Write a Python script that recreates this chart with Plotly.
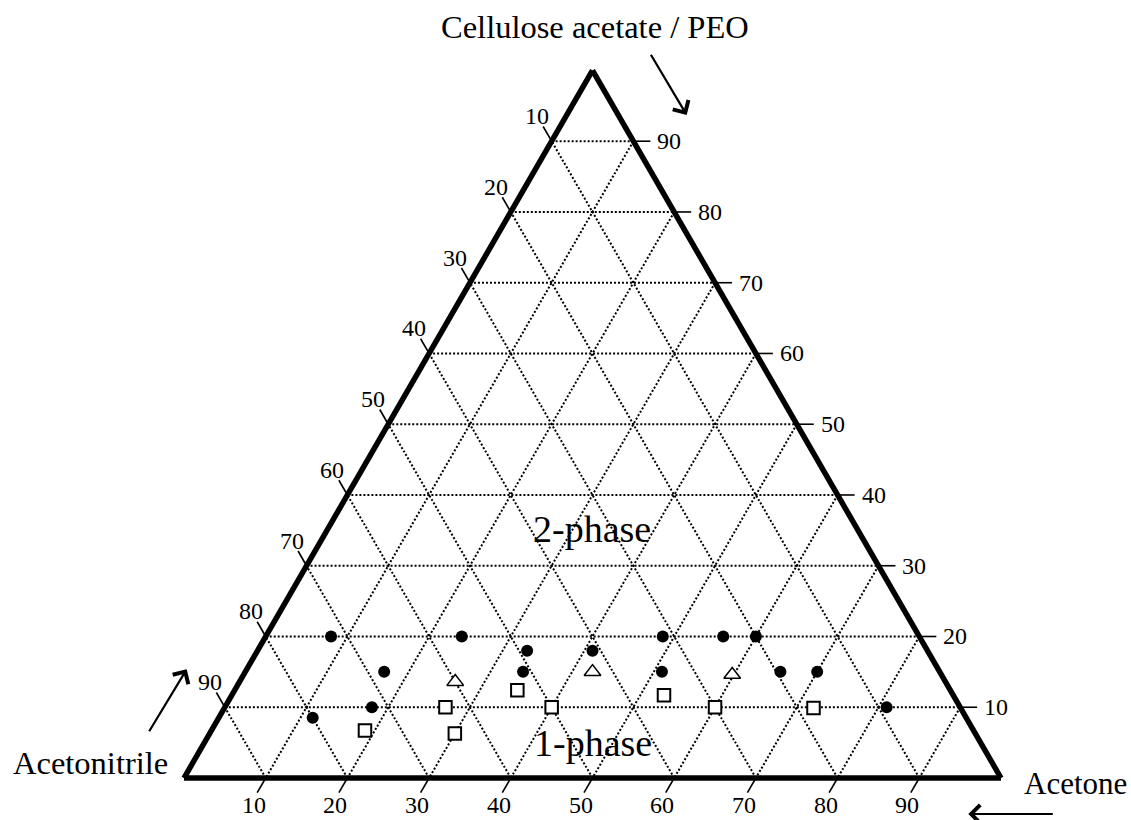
import plotly.graph_objects as go

# ---------------- data (a = Cellulose acetate / PEO, b = Acetonitrile, c = Acetone) ----
two_phase_a = [20, 20, 18, 18, 20, 20, 20, 15, 15, 15, 15, 15, 10, 10, 8.5]
two_phase_b = [72, 56, 49, 41, 31.4, 24, 20, 68, 51, 34, 19.5, 15, 72, 9, 80]
two_phase_c = [8, 24, 33, 41, 48.6, 56, 60, 17, 34, 51, 65.5, 70, 18, 81, 11.5]

boundary_a = [13.6, 15, 14.6]
boundary_b = [60, 42.5, 25.6]
boundary_c = [26.4, 42.5, 59.8]

one_phase_a = [12.4, 10, 10, 11.7, 10, 9.9, 6.7, 6.3]
one_phase_b = [53, 63, 50, 35.4, 30, 18, 74.5, 63.7]
one_phase_c = [34.6, 27, 40, 52.9, 60, 72.1, 18.8, 30]

tick_values = [10, 20, 30, 40, 50, 60, 70, 80, 90]
tick_labels = [str(v) for v in tick_values]

SERIF = "Liberation Serif"
FIG_W, FIG_H = 1131, 820

# triangle placement (pixels)
X0, X1 = 184.0, 1001.0     # bottom-left / bottom-right x
Y0 = 778.0                 # bottom edge y
SIDE = X1 - X0
HGT = SIDE * 3 ** 0.5 / 2
YTOP = Y0 - HGT

fig = go.Figure()

# ---------------- data points -----------------------------------------------------------
fig.add_trace(go.Scatterternary(
    a=two_phase_a, b=two_phase_b, c=two_phase_c, mode="markers", name="2-phase",
    marker=dict(symbol="circle", size=12, color="black", line=dict(width=0))))
fig.add_trace(go.Scatterternary(
    a=boundary_a, b=boundary_b, c=boundary_c, mode="markers", name="boundary",
    marker=dict(symbol="triangle-up", size=14.5, color="white",
                line=dict(width=1.5, color="black"))))
fig.add_trace(go.Scatterternary(
    a=one_phase_a, b=one_phase_b, c=one_phase_c, mode="markers", name="1-phase",
    marker=dict(symbol="square", size=12.5, color="white",
                line=dict(width=2, color="black"))))

axis_common = dict(
    showline=True, linewidth=5.5, linecolor="black",
    showgrid=True, gridcolor="black", gridwidth=2, griddash="2px,2px",
    tickmode="linear", tick0=0, dtick=10, ticks="", showticklabels=False,
    title=dict(text=""), min=0,
)

fig.update_layout(
    width=FIG_W, height=FIG_H,
    margin=dict(l=0, r=0, t=0, b=0),
    paper_bgcolor="white", plot_bgcolor="white",
    showlegend=False,
    ternary=dict(
        sum=100,
        bgcolor="white",
        domain=dict(x=[X0 / FIG_W, X1 / FIG_W], y=[1 - Y0 / FIG_H, 1 - YTOP / FIG_H]),
        aaxis=axis_common, baxis=axis_common, caxis=axis_common,
    ),
)

# ---------------- axis ticks and tick labels (outside the triangle) ---------------------
def tern_px(a, b, c):
    s = a + b + c
    return X0 + SIDE * (c + a / 2) / s, Y0 - HGT * a / s

def px_x(x):
    return x / FIG_W

def px_y(y):
    return 1 - y / FIG_H

TICK_LEN = 17
S3 = 3 ** 0.5 / 2
edges = [
    # (edge point function, tick direction, label offset)
    (lambda v: tern_px(v, 0, 100 - v), (1.0, 0.0), (36, 0)),        # right: Cellulose acetate / PEO
    (lambda v: tern_px(100 - v, v, 0), (-0.5, -S3), (-15, -25)),    # left: Acetonitrile
    (lambda v: tern_px(0, 100 - v, v), (-0.5, S3), (-12, 27)),      # bottom: Acetone
]
for edge_pt, (dx, dy), (lx, ly) in edges:
    for v, t in zip(tick_values, tick_labels):
        x, y = edge_pt(v)
        fig.add_shape(type="line", xref="paper", yref="paper",
                      x0=px_x(x), y0=px_y(y),
                      x1=px_x(x + TICK_LEN * dx), y1=px_y(y + TICK_LEN * dy),
                      line=dict(color="black", width=1.6), layer="above")
        fig.add_annotation(text=t, x=px_x(x + lx), y=px_y(y + ly), xref="paper", yref="paper",
                           showarrow=False, xanchor="center", yanchor="middle",
                           font=dict(family=SERIF, size=24, color="black"))

# ---------------- text and arrows -------------------------------------------------------
def label(text, x, y, size):
    fig.add_annotation(text=text, x=px_x(x), y=px_y(y), xref="paper", yref="paper",
                       showarrow=False, xanchor="center", yanchor="middle",
                       font=dict(family=SERIF, size=size, color="black"))

label("Cellulose acetate / PEO", 595, 27, 32.5)
label("Acetonitrile", 90, 763, 32.5)
label("Acetone", 1075, 783, 31)
label("2-phase", 592, 529, 38)
label("1-phase", 593, 743, 38)

def arrow(tip_x, tip_y, tail_x, tail_y):
    fig.add_annotation(text="", x=px_x(tip_x), y=px_y(tip_y), xref="paper", yref="paper",
                       ax=tail_x - tip_x, ay=tail_y - tip_y, axref="pixel", ayref="pixel",
                       showarrow=True, arrowhead=4, arrowsize=1.6, arrowwidth=2.2,
                       arrowcolor="black", standoff=0, startstandoff=0)

arrow(686.7, 115, 650, 53.3)
arrow(186.7, 669.3, 148.3, 732.7)
arrow(968.3, 814, 1054.3, 814)

fig.write_html("out.html")
